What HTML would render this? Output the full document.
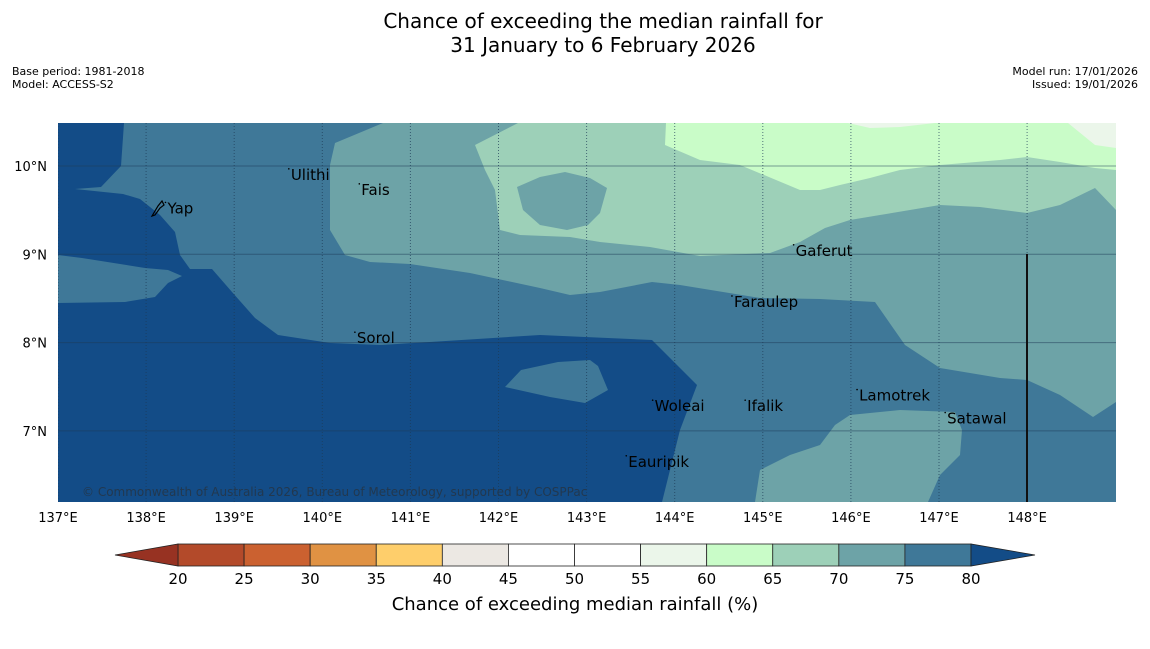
<!DOCTYPE html>
<html><head><meta charset="utf-8"><style>
body{margin:0;background:#fff;width:1150px;height:644px;overflow:hidden;font-family:"Liberation Sans","DejaVu Sans",sans-serif}
svg text{font-family:"DejaVu Sans","Liberation Sans",sans-serif}
</style></head><body>
<svg id="chart" width="1150" height="644" xmlns="http://www.w3.org/2000/svg">
<text x="603" y="28" font-size="20" text-anchor="middle" fill="#000">Chance of exceeding the median rainfall for</text>
<text x="603" y="52" font-size="20" text-anchor="middle" fill="#000">31 January to 6 February 2026</text>
<text x="12" y="75" font-size="11">Base period: 1981-2018</text>
<text x="12" y="88" font-size="11">Model: ACCESS-S2</text>
<text x="1138" y="75" font-size="11" text-anchor="end">Model run: 17/01/2026</text>
<text x="1138" y="88" font-size="11" text-anchor="end">Issued: 19/01/2026</text>
<defs><clipPath id="mapclip"><rect x="58" y="123" width="1058" height="379"/></clipPath></defs>
<g id="map" clip-path="url(#mapclip)">
<rect x="58" y="123" width="1058" height="379" fill="#3f7898"/>
<polygon fill="#6da3a7" points="383,123 1116,123 1116,402 1093,417 1060,395 1027,380 1000,378 940,368 905,345 875,302 820,299 760,298 680,285 652,282 600,292 570,295 540,288 470,273 410,264 370,262 345,255 330,230 330,165 335,143"/>
<polygon fill="#9dd0b8" points="518,123 1116,123 1116,210 1095,188 1060,205 1027,213 980,207 940,205 880,215 850,220 825,228 800,242 770,253 700,256 650,247 600,242 570,237 520,235 500,230 495,190 485,170 475,145"/>
<polygon fill="#c9fcc8" points="666,123 1116,123 1116,170 1095,168 1060,162 1027,157 1000,160 940,165 900,170 870,178 840,185 820,190 800,190 740,165 700,160 665,145"/>
<polygon fill="#ebf6ea" points="848,123 935,123 900,127 870,128"/>
<polygon fill="#ebf6ea" points="1068,123 1116,123 1116,148 1095,145"/>
<polygon fill="#6da3a7" points="517,187 540,177 565,172 590,178 607,188 600,213 588,225 567,230 540,225 523,210"/>
<polygon fill="#6da3a7" points="755,502 760,470 790,455 820,445 835,425 850,415 900,410 955,412 962,430 960,455 940,475 928,502"/>
<polygon fill="#134c87" points="58,123 124,123 121,166 101,187 75,189 123,194 140,199 160,215 175,232 180,255 190,269 212,269 232,292 255,318 278,335 330,343 380,345 430,342 540,335 652,340 697,385 680,430 670,470 662,502 58,502 58,303 125,302 155,297 168,283 182,276 168,270 145,268 82,258 58,255"/>
<polygon fill="#3f7898" points="505,387 521,370 558,362 590,360 598,366 608,390 585,403 550,397"/>
<g id="grid"></g>
<line x1="1027" y1="254" x2="1027" y2="502" stroke="#111" stroke-width="2"/>
<text x="82" y="496" font-size="12" fill="#22384f">© Commonwealth of Australia 2026, Bureau of Meteorology, supported by COSPPac</text>
<g id="places"></g>
<path d="M152,216 L158,206 L162,201 L164,205 L160,208 L155,215 Z" fill="none" stroke="#000" stroke-width="1.2"/>
</g>
<g id="axes"></g>
<g id="cbar"></g>
<text x="575" y="610" font-size="18" text-anchor="middle">Chance of exceeding median rainfall (%)</text>
</svg>
<script>
const lonTicks=[137,138,139,140,141,142,143,144,145,146,147,148];
const latTicks=[10,9,8,7];
const levels=[20,25,30,35,40,45,50,55,60,65,70,75,80];
const levelColors=['#b34a2a','#cb6130','#e09243','#fece6b','#ece8e3','#ffffff','#ffffff','#ebf6ea','#c9fcc8','#9dd0b8','#6da3a7','#3f7898'];
const extendColors=['#973222','#134c87'];
const placeNames=['Yap','Ulithi','Fais','Sorol','Gaferut','Faraulep','Woleai','Ifalik','Lamotrek','Satawal','Eauripik'];
const placeLons=[138.22,139.62,140.42,140.37,145.35,144.65,143.75,144.8,146.07,147.07,143.45];
const placeLats=[9.52,9.9,9.73,8.05,9.04,8.46,7.28,7.28,7.4,7.14,6.65];
const NS='http://www.w3.org/2000/svg';
const xLon=l=>58+(l-137)*88.1;
const yLat=l=>166+(10-l)*88.3;
const cbX=v=>178+(v-20)*(793/60);
function mk(tag,attrs,parent){const e=document.createElementNS(NS,tag);for(const k in attrs)e.setAttribute(k,attrs[k]);parent.appendChild(e);return e;}
const grid=document.getElementById('grid'),axes=document.getElementById('axes'),places=document.getElementById('places'),cbar=document.getElementById('cbar');
lonTicks.forEach(l=>{
 const g=mk('line',{x1:xLon(l),x2:xLon(l),y1:123,y2:502,stroke:'#1d3a55','stroke-width':1,'stroke-dasharray':'1,2','stroke-opacity':0.7},grid);
 
 
 const t=mk('text',{x:xLon(l),y:522,'font-size':13,'text-anchor':'middle'},axes);
 
 
 t.textContent=l+'°E';
});
latTicks.forEach(l=>{
 const g=mk('line',{x1:58,x2:1116,y1:yLat(l),y2:yLat(l),stroke:'#1d3a55','stroke-width':1,'stroke-opacity':0.5},grid);
 
 
 const t=mk('text',{x:47,y:yLat(l)+5,'font-size':13,'text-anchor':'end'},axes);
 
 
 t.textContent=l+'°N';
});
placeNames.forEach((n,i)=>{
 const t=mk('text',{x:xLon(placeLons[i])+2,y:yLat(placeLats[i])+5,'font-size':15,fill:'#000'},places);
 
 
 t.textContent=n;
 const d=mk('circle',{cx:xLon(placeLons[i]),cy:yLat(placeLats[i])-6,r:0.8,fill:'#000'},places);
 
 
});
levelColors.forEach((c,i)=>{
 const r=mk('rect',{x:cbX(levels[i]),y:544,width:cbX(levels[i+1])-cbX(levels[i]),height:22,fill:c,stroke:'#222','stroke-width':0.8},cbar);
 
 
});
const lo=mk('polygon',{points:`${cbX(20)},544 ${cbX(20)},566 115,555`,fill:extendColors[0],stroke:'#222','stroke-width':0.8},cbar);


const hi=mk('polygon',{points:`${cbX(80)},544 ${cbX(80)},566 1035,555`,fill:extendColors[1],stroke:'#222','stroke-width':0.8},cbar);


levels.forEach(v=>{
 const t=mk('text',{x:cbX(v),y:584,'font-size':15,'text-anchor':'middle'},cbar);
 
 
 t.textContent=v;
});
</script>
</body></html>
